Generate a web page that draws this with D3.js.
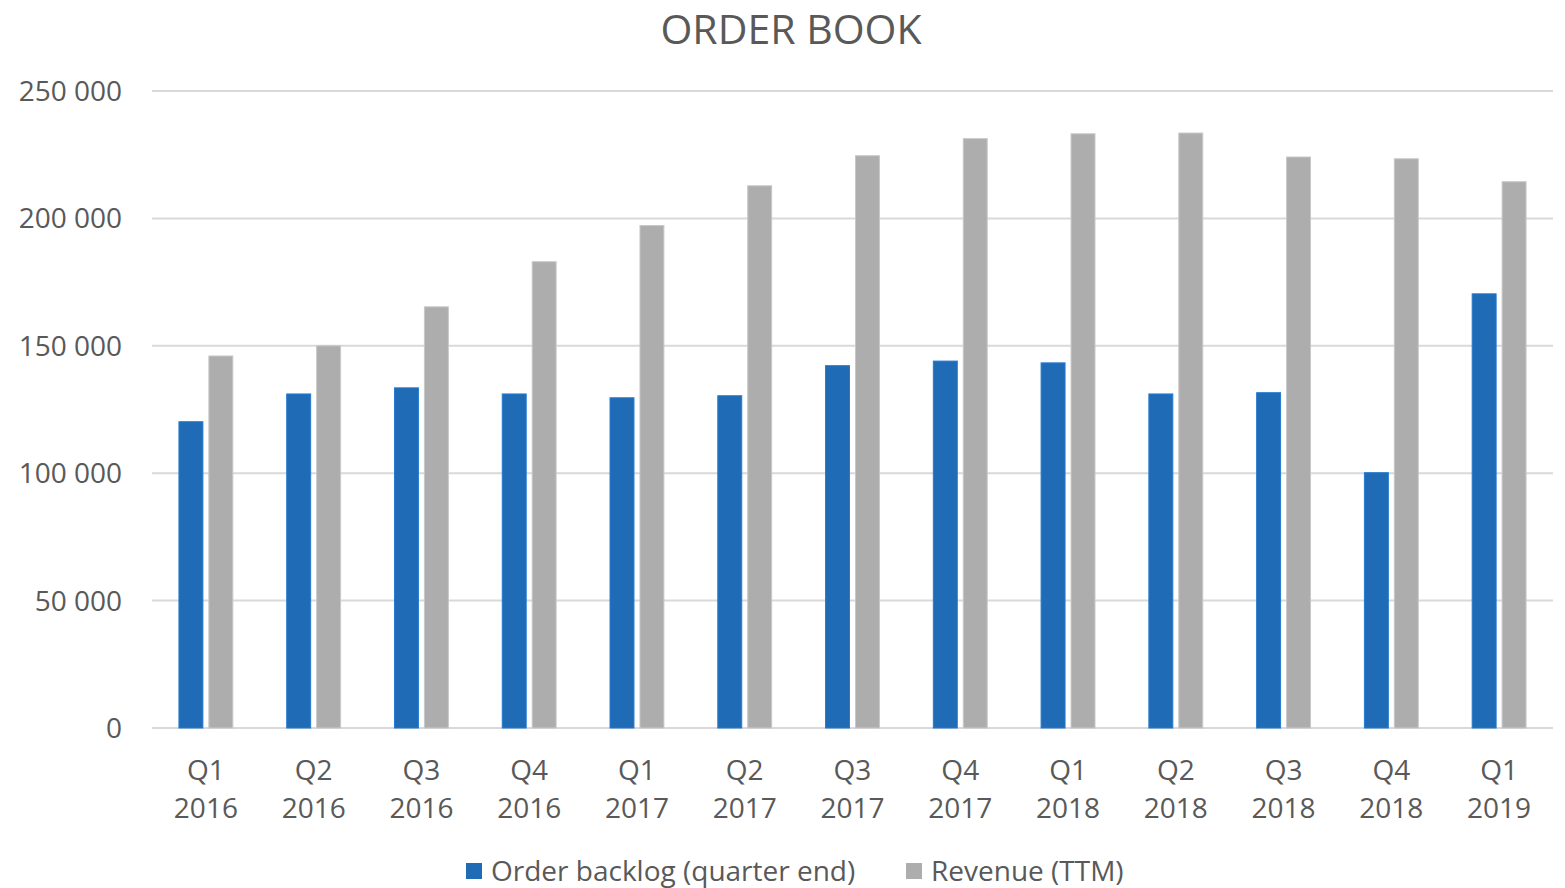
<!DOCTYPE html>
<html>
<head>
<meta charset="utf-8">
<script src="https://cdn.jsdelivr.net/npm/d3@7"></script>
<style>
  html, body { margin: 0; padding: 0; background: #fff; }
  svg text { font-family: "Open Sans", sans-serif; fill: #595959; }
</style>
</head>
<body>
<svg id="chart" width="1565" height="888"></svg>
<script>
// data
var quarters = ['Q1', 'Q2', 'Q3', 'Q4', 'Q1', 'Q2', 'Q3', 'Q4', 'Q1', 'Q2', 'Q3', 'Q4', 'Q1'];
var years = ['2016', '2016', '2016', '2016', '2017', '2017', '2017', '2017', '2018', '2018', '2018', '2018', '2019'];
var backlog = [120200, 131100, 133500, 131100, 129600, 130400, 142200, 144000, 143300, 131100, 131600, 100200, 170400];
var revenue = [146000, 150000, 165300, 183000, 197200, 212800, 224600, 231300, 233200, 233500, 224100, 223400, 214400];
var yTicks = [0, 50000, 100000, 150000, 200000, 250000];
var seriesNames = ['Order backlog (quarter end)', 'Revenue (TTM)'];
var colors = ['#1f6bb5', '#adadad'];

var svg = d3.select('#chart');
var margin = { left: 152, right: 12, top: 91, bottom: 160 };
var width = 1565 - margin.left - margin.right;
var height = 888 - margin.top - margin.bottom;

var g = svg.append('g').attr('transform', 'translate(' + margin.left + ',' + margin.top + ')');

var cats = d3.range(quarters.length);
var x = d3.scaleBand().domain(cats).range([0, width]).paddingInner(0.5).paddingOuter(0.25);
var xs = d3.scaleBand().domain([0, 1]).range([0, x.bandwidth()]).paddingInner(0.2);
var y = d3.scaleLinear().domain([0, 250000]).range([height, 0]);

var fmt = function (v) { return d3.format(',')(v).replace(/,/g, ' '); };

// gridlines
g.selectAll('.grid')
    .data(yTicks)
    .enter().append('line')
    .attr('x1', 0)
    .attr('x2', width)
    .attr('y1', function (d) { return y(d); })
    .attr('y2', function (d) { return y(d); })
    .style('stroke', '#d9d9d9')
    .style('stroke-width', 2);

// y tick labels
g.selectAll('.ylab')
    .data(yTicks)
    .enter().append('text')
    .attr('x', -30)
    .attr('y', function (d) { return y(d); })
    .attr('dy', '0.36em')
    .attr('text-anchor', 'end')
    .style('font-size', '28px')
    .text(fmt);

// bars
var groups = g.selectAll('.grp')
    .data(cats)
    .enter().append('g')
    .attr('transform', function (i) { return 'translate(' + x(i) + ',0)'; });

[backlog, revenue].forEach(function (vals, s) {
    groups.append('rect')
        .attr('x', xs(s))
        .attr('width', xs.bandwidth())
        .attr('y', function (i) { return y(vals[i]); })
        .attr('height', function (i) { return height - y(vals[i]); })
        .style('fill', colors[s])
        .style('stroke', d3.color(colors[s]).brighter(0.4))
        .style('stroke-width', 1);
});

// x labels
groups.append('text')
    .attr('x', x.bandwidth() / 2)
    .attr('y', height + 52)
    .attr('text-anchor', 'middle')
    .style('font-size', '28px')
    .text(function (i) { return quarters[i]; });
groups.append('text')
    .attr('x', x.bandwidth() / 2)
    .attr('y', height + 90)
    .attr('text-anchor', 'middle')
    .style('font-size', '28px')
    .text(function (i) { return years[i]; });

// title
svg.append('text')
    .attr('x', 791)
    .attr('y', 44)
    .attr('text-anchor', 'middle')
    .style('font-size', '41px')
    .text('ORDER BOOK');

// legend
var legendX = [466, 906];
var legend = svg.selectAll('.leg')
    .data(seriesNames)
    .enter().append('g')
    .attr('transform', function (d, i) { return 'translate(' + legendX[i] + ',863)'; });
legend.append('rect')
    .attr('width', 16)
    .attr('height', 16)
    .style('fill', function (d, i) { return colors[i]; });
legend.append('text')
    .attr('x', 25)
    .attr('y', 8)
    .attr('dy', '0.36em')
    .style('font-size', '28px')
    .text(function (d) { return d; });
</script>
</body>
</html>
